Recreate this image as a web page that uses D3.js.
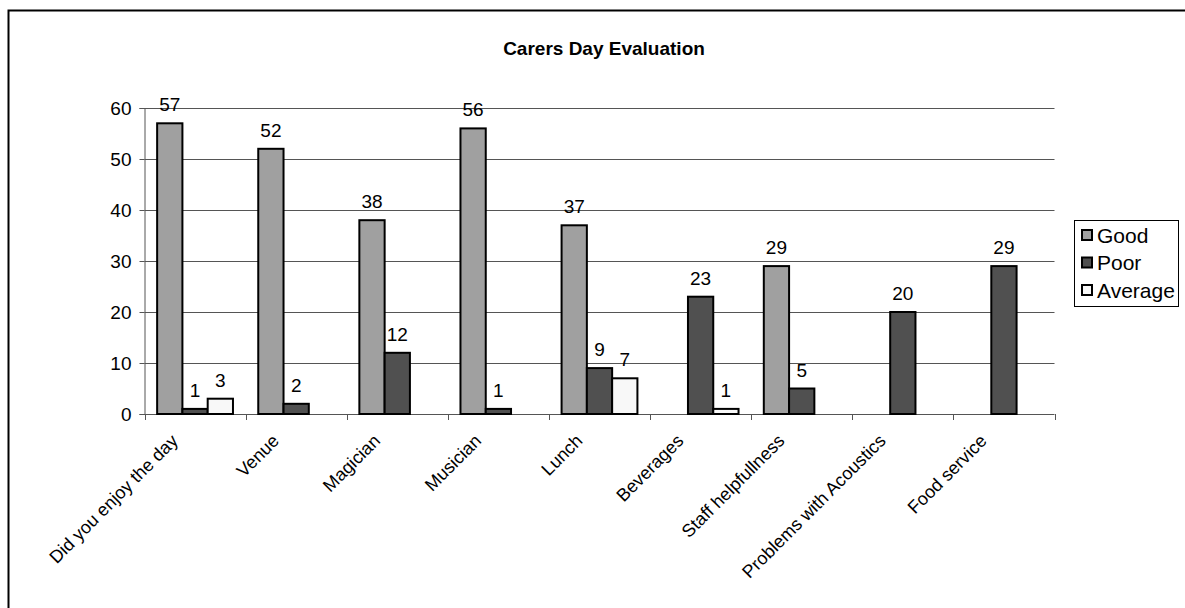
<!DOCTYPE html>
<html>
<head>
<meta charset="utf-8">
<script src="https://cdn.jsdelivr.net/npm/d3@7"></script>
<style>
  html, body { margin: 0; padding: 0; background: #fff; }
  svg { display: block; font-family: "Liberation Sans", Arial, sans-serif; }
</style>
</head>
<body>
<svg id="chart" width="1185" height="608"></svg>
<script>
const categories = ["Did you enjoy the day", "Venue", "Magician", "Musician", "Lunch", "Beverages", "Staff helpfullness", "Problems with Acoustics", "Food service"];
const seriesNames = ["Good", "Poor", "Average"];
const good    = [57, 52, 38, 56, 37, null, 29, null, null];
const poor    = [1, 2, 12, 1, 9, 23, 5, 20, 29];
const average = [3, null, null, null, 7, 1, null, null, null];
const yTicks  = [0, 10, 20, 30, 40, 50, 60];
const title   = "Carers Day Evaluation";

const colors = { Good: "#a0a0a0", Poor: "#505050", Average: "#f8f8f8" };
const seriesData = { Good: good, Poor: poor, Average: average };

const svg = d3.select("#chart");
const W = 1185, H = 608;
const plot = { left: 144.5, right: 1054.5, top: 108, bottom: 414 };
const FS = 19;

// outer chart border (right/bottom beyond view)
svg.append("rect")
  .attr("x", 8.5).attr("y", 10.5)
  .attr("width", W + 20).attr("height", H + 20)
  .attr("fill", "#fff").attr("stroke", "#000").attr("stroke-width", 2);

const x = d3.scaleBand().domain(categories).range([plot.left, plot.right]).paddingInner(0).paddingOuter(0);
const xs = d3.scaleBand().domain(seriesNames).range([0, x.bandwidth()]).paddingInner(0).paddingOuter(0.5);
const y = d3.scaleLinear().domain([0, 60]).range([plot.bottom, plot.top]);

// gridlines
svg.append("g").selectAll("line").data(yTicks.filter(d => d > 0)).join("line")
  .attr("x1", plot.left).attr("x2", plot.right)
  .attr("y1", d => Math.round(y(d)) + 0.5).attr("y2", d => Math.round(y(d)) + 0.5)
  .attr("stroke", "#555").attr("stroke-width", 1);

// title
svg.append("text")
  .attr("x", 604).attr("y", 55)
  .attr("text-anchor", "middle")
  .attr("font-weight", "bold").attr("font-size", 19)
  .attr("fill", "#000")
  .text(title);

// y axis
const yAxis = d3.axisLeft(y).tickValues(yTicks).tickSize(5).tickPadding(8).tickFormat(d3.format("d"));
const gy = svg.append("g").attr("transform", `translate(${plot.left},0)`).call(yAxis);
gy.select(".domain").attr("stroke", "#555");
gy.selectAll(".tick line").attr("stroke", "#555");
gy.selectAll(".tick text").attr("font-size", FS).attr("fill", "#000").attr("font-family", "Liberation Sans, Arial, sans-serif");
gy.selectAll(".tick").attr("transform", d => `translate(0,${Math.round(y(d)) + 0.5})`);

// x axis line and ticks at category boundaries
const xAxisG = svg.append("g");
xAxisG.append("line")
  .attr("x1", plot.left).attr("x2", plot.right)
  .attr("y1", plot.bottom + 0.5).attr("y2", plot.bottom + 0.5)
  .attr("stroke", "#555");
xAxisG.selectAll("line.tk").data(categories.concat(["__end"])).join("line")
  .attr("class", "tk")
  .attr("x1", (d, i) => Math.round(plot.left + i * x.step()) + 0.5)
  .attr("x2", (d, i) => Math.round(plot.left + i * x.step()) + 0.5)
  .attr("y1", plot.bottom).attr("y2", plot.bottom + 6)
  .attr("stroke", "#555");

// category labels
xAxisG.selectAll("text.cat").data(categories).join("text")
  .attr("class", "cat")
  .attr("text-anchor", "end")
  .attr("font-size", 18)
  .attr("fill", "#000")
  .attr("transform", d => `translate(${x(d) + x.bandwidth() / 2 - 16},${plot.bottom + 28}) rotate(-45)`)
  .text(d => d);

// bars
const barData = [];
categories.forEach((c, i) => {
  seriesNames.forEach(s => {
    const v = seriesData[s][i];
    if (v !== null && v !== undefined) barData.push({ c, s, v });
  });
});

svg.append("g").selectAll("rect").data(barData).join("rect")
  .attr("x", d => x(d.c) + xs(d.s))
  .attr("width", xs.bandwidth())
  .attr("y", d => y(d.v))
  .attr("height", d => y(0) - y(d.v))
  .attr("fill", d => colors[d.s])
  .attr("stroke", "#000").attr("stroke-width", 2);

// value labels
svg.append("g").selectAll("text").data(barData).join("text")
  .attr("x", d => x(d.c) + xs(d.s) + xs.bandwidth() / 2)
  .attr("y", d => y(d.v) - 12)
  .attr("text-anchor", "middle")
  .attr("font-size", FS)
  .attr("fill", "#000")
  .text(d => d.v);

// legend
const lg = svg.append("g");
lg.append("rect").attr("x", 1074.5).attr("y", 220.5).attr("width", 104).attr("height", 86)
  .attr("fill", "#fff").attr("stroke", "#000").attr("stroke-width", 1);
const rows = lg.selectAll("g.row").data(seriesNames).join("g")
  .attr("class", "row")
  .attr("transform", (d, i) => `translate(1081,${235 + i * 27.5})`);
rows.append("rect").attr("x", 1).attr("y", -5).attr("width", 10).attr("height", 10)
  .attr("fill", d => colors[d]).attr("stroke", "#000").attr("stroke-width", 2);
rows.append("text").attr("x", 16).attr("y", 7.5).attr("font-size", 21).attr("fill", "#000").text(d => d);
</script>
</body>
</html>
